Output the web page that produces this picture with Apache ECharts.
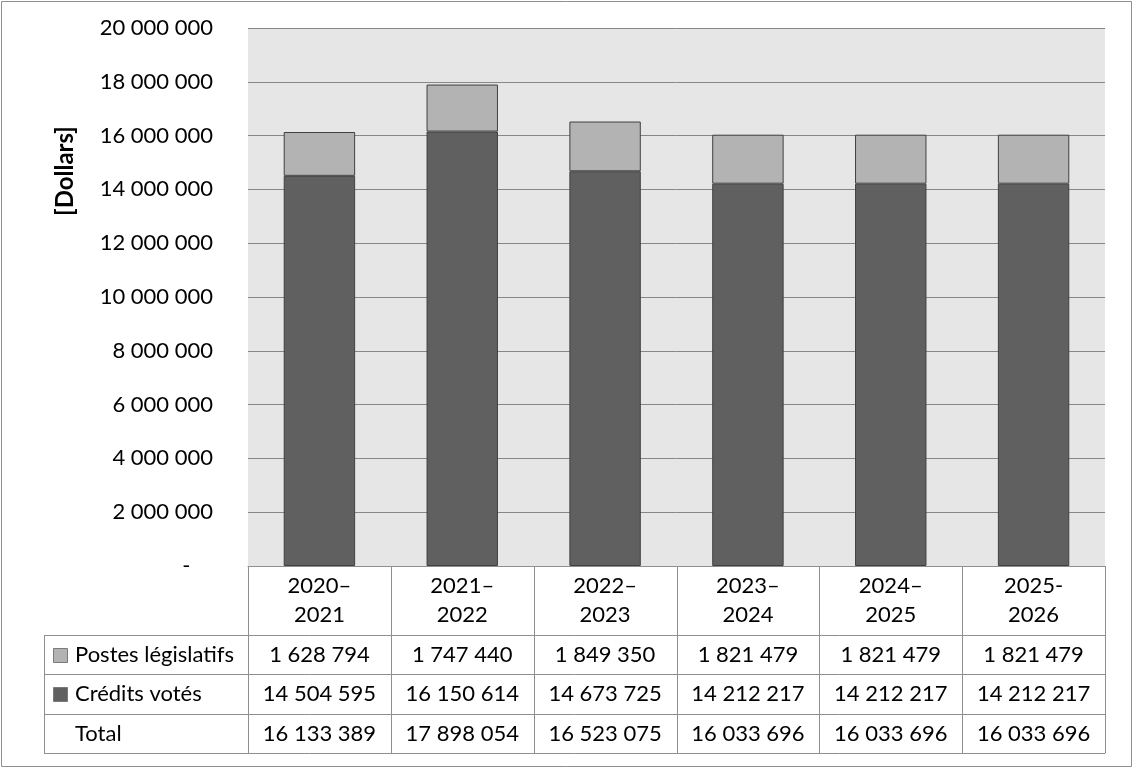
<!DOCTYPE html>
<html><head><meta charset="utf-8">
<script src="https://cdn.jsdelivr.net/npm/echarts@6/dist/echarts.min.js"></script>
<style>html,body{margin:0;padding:0;background:#fff}#c{width:1134px;height:771px}</style>
</head><body><div id="c"></div>
<script>
const categories = ['2020–\n2021','2021–\n2022','2022–\n2023','2023–\n2024','2024–\n2025','2025-\n2026'];
const creditsVotes = [14504595,16150614,14673725,14212217,14212217,14212217];
const postesLegislatifs = [1628794,1747440,1849350,1821479,1821479,1821479];
const totals = [16133389,17898054,16523075,16033696,16033696,16033696];
const rowLabels = ['Postes législatifs','Crédits votés','Total'];
const yAxisTitle = '[Dollars]';

const FONT = 'Lato';
const FS = 22;
const DARK = '#606060', LIGHT = '#b3b3b3', EDGE = '#404040', LINE = '#8f8f8f';
function fmt(n){ return String(n).replace(/\B(?=(\d{3})+(?!\d))/g,' '); }

const chart = echarts.init(document.getElementById('c'));
chart.setOption({
  animation:false,
  backgroundColor:'#ffffff',
  grid:{left:248,right:29,top:28,bottom:205,show:true,backgroundColor:'#e6e6e6',borderWidth:0},
  xAxis:{type:'category',data:categories,
    axisLine:{show:true,lineStyle:{color:LINE,width:1}},
    axisTick:{show:false},
    axisLabel:{margin:5,fontFamily:FONT,fontSize:FS,color:'#000',lineHeight:29,interval:0}},
  yAxis:{type:'value',min:0,max:20000000,interval:2000000,
    axisLine:{show:false},axisTick:{show:false},
    splitLine:{lineStyle:{color:'#878787',width:1}},
    axisLabel:{margin:35,fontFamily:FONT,fontSize:FS,color:'#000',
      formatter:v=> v===0 ? '-    ' : fmt(v)}},
  series:[
    {name:rowLabels[1],type:'bar',stack:'a',data:creditsVotes,barWidth:'50%',
      itemStyle:{color:DARK,borderColor:EDGE,borderWidth:1}},
    {name:rowLabels[0],type:'bar',stack:'a',data:postesLegislatifs,barWidth:'50%',
      itemStyle:{color:LIGHT,borderColor:EDGE,borderWidth:1}}
  ]
});

const c0 = chart.convertToPixel({xAxisIndex:0},0);
const c1 = chart.convertToPixel({xAxisIndex:0},1);
const bw = c1 - c0;
const left = c0 - bw/2;
const right = left + bw*categories.length;
const yBase = chart.convertToPixel({yAxisIndex:0},0);
const tableLeft = 44;
const headerBottom = 635;
const rowH = 39.4;
const g = [];
const crisp = v => Math.round(v)+0.5;
for(let r=0;r<=3;r++){
  const y = crisp(headerBottom + r*rowH);
  g.push({type:'line',shape:{x1:tableLeft,y1:y,x2:right,y2:y},style:{stroke:LINE,lineWidth:1},z:100});
}
for(let i=0;i<=categories.length;i++){
  const x = crisp(left + i*bw);
  g.push({type:'line',shape:{x1:x,y1:yBase,x2:x,y2:headerBottom+3*rowH},style:{stroke:LINE,lineWidth:1},z:100});
}
g.push({type:'line',shape:{x1:crisp(tableLeft),y1:headerBottom,x2:crisp(tableLeft),y2:headerBottom+3*rowH},style:{stroke:LINE,lineWidth:1},z:100});
const rows = [postesLegislatifs, creditsVotes, totals];
const keyColors = [LIGHT, DARK, null];
rows.forEach((arr,r)=>{
  const yc = headerBottom + r*rowH + rowH/2;
  if(keyColors[r]) g.push({type:'rect',shape:{x:53.5,y:Math.round(yc-7)+0.5,width:14,height:14},style:{fill:keyColors[r],stroke:'#7a7a7a',lineWidth:1},z:100});
  g.push({type:'text',style:{text:rowLabels[r],x:75,y:yc,font:FS+'px '+FONT,fill:'#000',align:'left',verticalAlign:'middle'},z:100});
  arr.forEach((v,i)=>{
    g.push({type:'text',style:{text:fmt(v),x:left+(i+0.5)*bw,y:yc,font:FS+'px '+FONT,fill:'#000',align:'center',verticalAlign:'middle'},z:100});
  });
});
g.push({type:'text',x:65,y:171,rotation:Math.PI/2,style:{text:yAxisTitle,x:0,y:0,font:'bold 24px '+FONT,fill:'#000',align:'center',verticalAlign:'middle'},z:100});
g.push({type:'rect',shape:{x:1.5,y:1.5,width:1130,height:765},style:{fill:'none',stroke:LINE,lineWidth:1},z:100});
chart.setOption({graphic:g});
</script></body></html>
